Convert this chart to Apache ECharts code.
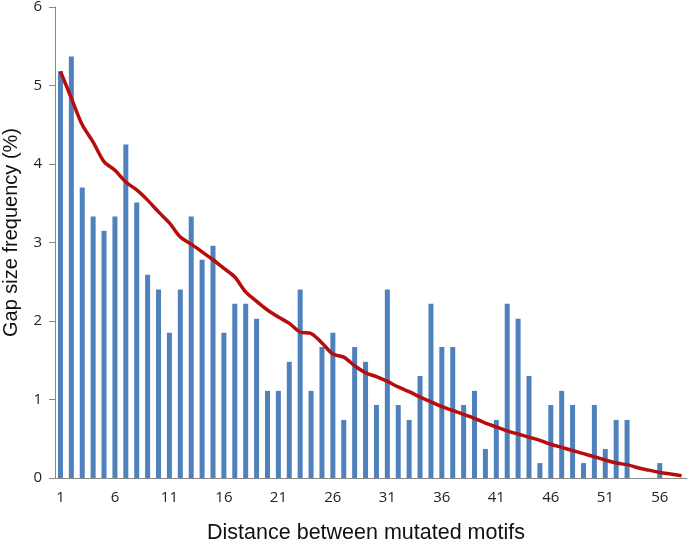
<!DOCTYPE html>
<html><head><meta charset="utf-8">
<script src="https://cdn.jsdelivr.net/npm/echarts@6/dist/echarts.min.js"></script>
<style>html,body{margin:0;padding:0;background:#fff}#c{width:693px;height:540px}</style>
</head><body><div id="c"></div>
<script>
const categories = [];
for (let i = 1; i <= 58; i++) categories.push(String(i));
const barValues = [5.18,5.37,3.70,3.33,3.15,3.33,4.25,3.51,2.59,2.40,
  1.85,2.40,3.33,2.78,2.96,1.85,2.22,2.22,2.03,1.11,
  1.11,1.48,2.40,1.11,1.67,1.85,0.74,1.67,1.48,0.93,
  2.40,0.93,0.74,1.30,2.22,1.67,1.67,0.93,1.11,0.37,
  0.74,2.22,2.03,1.30,0.19,0.93,1.11,0.93,0.19,0.93,
  0.37,0.74,0.74,0,0,0.19,0,0];
const trendValues = [5.18,4.84,4.50,4.28,4.03,3.92,3.77,3.67,3.54,3.39,
  3.25,3.07,2.98,2.88,2.78,2.67,2.56,2.37,2.25,2.14,
  2.05,1.97,1.86,1.84,1.72,1.58,1.54,1.43,1.34,1.29,
  1.23,1.16,1.10,1.03,0.97,0.91,0.86,0.81,0.76,0.70,
  0.65,0.60,0.56,0.52,0.48,0.43,0.39,0.35,0.31,0.27,
  0.23,0.19,0.17,0.13,0.10,0.07,0.05,0.03];
const yTicks = [0,1,2,3,4,5,6];

const chart = echarts.init(document.getElementById('c'));
chart.setOption({
  animation: false,
  grid: {left: 55, right: 6, top: 7, bottom: 62, containLabel: false, outerBoundsMode: 'none'},
  xAxis: {
    type: 'category', data: categories, boundaryGap: true,
    name: 'Distance between mutated motifs', nameLocation: 'middle', nameGap: 44,
    nameTextStyle: {fontSize: 21.5, color: '#111', fontFamily: 'Liberation Sans', padding: [0, 10, 0, 0]},
    axisLine: {lineStyle: {color: '#888', width: 1}},
    axisTick: {interval: 4, length: 5, lineStyle: {color: '#888'}},
    axisLabel: {interval: 4, fontSize: 15, color: '#222', fontFamily: 'Open Sans', margin: 12}
  },
  yAxis: {
    type: 'value', min: yTicks[0], max: yTicks[yTicks.length-1], interval: 1,
    name: 'Gap size frequency (%)', nameLocation: 'middle', nameGap: 34,
    nameTextStyle: {fontSize: 20, color: '#111', fontFamily: 'Liberation Sans', padding: [0, 0, 0, 20]},
    axisLine: {show: true, lineStyle: {color: '#888', width: 1}},
    axisTick: {show: true, length: 6, lineStyle: {color: '#888'}},
    splitLine: {show: false},
    axisLabel: {fontSize: 15, color: '#222', fontFamily: 'Open Sans', margin: 13}
  },
  series: [
    {type: 'bar', data: barValues, barWidth: 5, itemStyle: {color: '#4f81bd'}},
    {type: 'line', data: trendValues, smooth: 0.3, symbol: 'none',
     lineStyle: {color: '#b80d0d', width: 3.5}, z: 5}
  ]
});
</script></body></html>
